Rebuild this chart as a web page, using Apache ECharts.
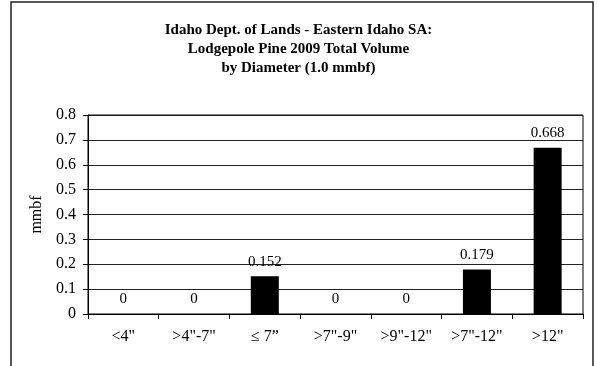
<!DOCTYPE html>
<html>
<head>
<meta charset="utf-8">
<script src="https://cdn.jsdelivr.net/npm/echarts@6/dist/echarts.min.js"></script>
<style>html,body{margin:0;padding:0;background:#fff;}#c{width:597px;height:366px;}</style>
</head>
<body>
<div id="c"></div>
<script>
var categories = ['<4"', '>4"-7"', '\u2264 7\u201D', '>7"-9"', '>9"-12"', '>7"-12"', '>12"'];
var values = [0, 0, 0.152, 0, 0, 0.179, 0.668];
var yTicks = [0, 0.1, 0.2, 0.3, 0.4, 0.5, 0.6, 0.7, 0.8];
var titleText = 'Idaho Dept. of Lands - Eastern Idaho SA:\nLodgepole Pine 2009 Total Volume\nby Diameter (1.0 mmbf)';
var yName = 'mmbf';

var font = 'Liberation Serif';
var chart = echarts.init(document.getElementById('c'), null, {renderer: 'canvas'});
chart.setOption({
  animation: false,
  backgroundColor: '#fff',
  title: {
    text: titleText,
    left: 'center',
    top: 16,
    textStyle: {fontFamily: font, fontSize: 15, fontWeight: 'bold', color: '#000', lineHeight: 19}
  },
  graphic: [{
    type: 'rect',
    shape: {x: 11, y: 2, width: 582, height: 380},
    style: {fill: 'none', stroke: '#222', lineWidth: 1.5},
    silent: true
  }],
  grid: {left: 88, right: 14, top: 115, bottom: 52, show: true, borderColor: '#000', borderWidth: 1, backgroundColor: 'transparent'},
  xAxis: {
    type: 'category',
    data: categories,
    boundaryGap: true,
    axisLine: {lineStyle: {color: '#000', width: 1}},
    axisTick: {show: true, alignWithLabel: false, length: 5, lineStyle: {color: '#000'}},
    axisLabel: {fontFamily: font, fontSize: 16, color: '#000', margin: 15, interval: 0}
  },
  yAxis: {
    type: 'value',
    min: yTicks[0],
    max: yTicks[yTicks.length - 1],
    interval: 0.1,
    name: yName,
    nameLocation: 'middle',
    nameGap: 37,
    nameTextStyle: {fontFamily: font, fontSize: 16, color: '#000'},
    axisLine: {show: true, lineStyle: {color: '#000', width: 1}},
    axisTick: {show: true, length: 5, lineStyle: {color: '#000'}},
    axisLabel: {fontFamily: font, fontSize: 16, color: '#000', margin: 12,
      formatter: function (v) { return Math.round(v * 10) / 10 + ''; }},
    splitLine: {show: true, lineStyle: {color: '#222', width: 1}}
  },
  series: [{
    type: 'bar',
    data: values,
    barWidth: 28,
    itemStyle: {color: '#000'},
    label: {show: true, position: 'top', distance: 7, fontFamily: font, fontSize: 15, color: '#000',
      formatter: function (p) { return p.value === 0 ? '0' : p.value.toFixed(3); }}
  }]
});
</script>
</body>
</html>
